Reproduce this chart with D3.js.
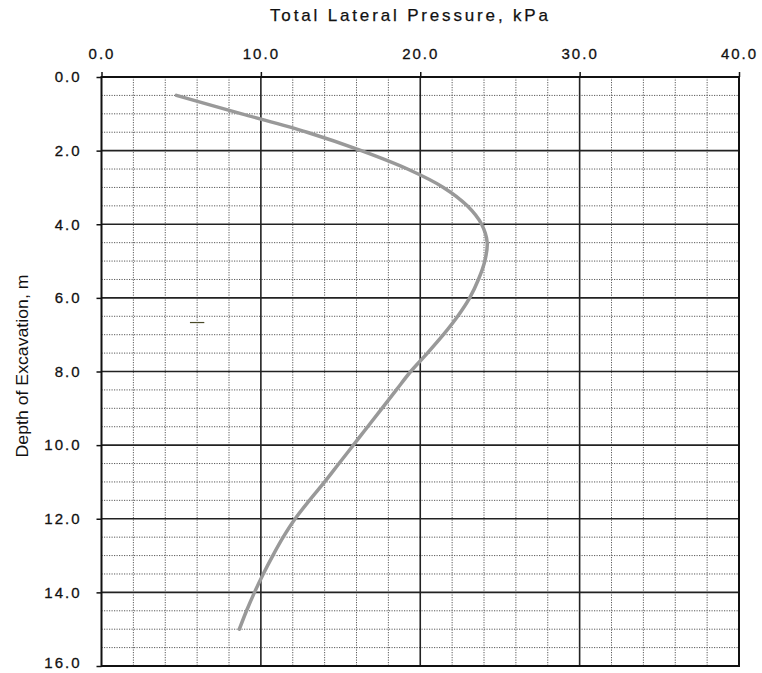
<!DOCTYPE html>
<html>
<head>
<meta charset="utf-8">
<script src="https://cdn.jsdelivr.net/npm/d3@7"></script>
<style>
  body { margin: 0; background: #fff; }
  svg { display: block; }
</style>
</head>
<body>
<div id="app"></div>
<script>
// depth of excavation (m) and total lateral pressure (kPa)
const depth = [0.5, 1.0, 1.5, 2.0, 2.5, 3.0, 3.5, 4.0, 4.5, 5.0, 5.5, 6.0, 6.5, 7.0, 7.5,
  8.0, 8.5, 9.0, 9.5, 10.0, 10.5, 11.0, 11.5, 12.0, 12.5, 13.0, 13.5, 14.0, 14.5, 15.0];
const pressure = [4.7, 8.8, 12.9, 16.3, 19.2, 21.45, 22.95, 23.85, 24.2, 24.05, 23.65, 23.1, 22.35, 21.45, 20.45,
  19.4, 18.5, 17.6, 16.7, 15.8, 14.9, 14.0, 13.05, 12.15, 11.4, 10.75, 10.15, 9.6, 9.1, 8.65];

const xTicks = [0, 10, 20, 30, 40];
const yTicks = [0, 2, 4, 6, 8, 10, 12, 14, 16];
const xMinor = d3.range(0, 40.01, 2);
const yMinor = d3.range(0, 16.01, 0.5);

// small stray mark on the scan, near the 6 kPa gridline
const strayMark = [{ p: 6.0, d: 6.67 }];

const width = 762;
const height = 673;

const svg = d3.select('#app').append('svg')
  .attr('width', width)
  .attr('height', height);

const x = d3.scaleLinear().domain([0, 40]).range([101.5, 739]);
const y = d3.scaleLinear().domain([0, 16]).range([77, 666]);

const grid = svg.append('g');

// minor dotted grid
grid.selectAll('.vminor').data(xMinor.filter(v => v % 10 !== 0))
  .enter().append('line')
  .attr('x1', d => x(d)).attr('x2', d => x(d))
  .attr('y1', y(0)).attr('y2', y(16))
  .attr('stroke', '#5a5a5a').attr('stroke-width', 1)
  .attr('stroke-dasharray', '1.2,1.3');

grid.selectAll('.hminor').data(yMinor.filter(v => v % 2 !== 0))
  .enter().append('line')
  .attr('x1', x(0)).attr('x2', x(40))
  .attr('y1', d => y(d)).attr('y2', d => y(d))
  .attr('stroke', '#5a5a5a').attr('stroke-width', 1)
  .attr('stroke-dasharray', '1.2,1.3');

// major solid grid
grid.selectAll('.vmajor').data(xTicks.slice(1, -1))
  .enter().append('line')
  .attr('x1', d => x(d)).attr('x2', d => x(d))
  .attr('y1', y(0)).attr('y2', y(16))
  .attr('stroke', '#222').attr('stroke-width', 1.6);

grid.selectAll('.hmajor').data(yTicks.slice(1, -1))
  .enter().append('line')
  .attr('x1', x(0)).attr('x2', x(40))
  .attr('y1', d => y(d)).attr('y2', d => y(d))
  .attr('stroke', '#222').attr('stroke-width', 1.6);

// border
svg.append('rect')
  .attr('x', x(0)).attr('y', y(0))
  .attr('width', x(40) - x(0)).attr('height', y(16) - y(0))
  .attr('fill', 'none').attr('stroke', '#111').attr('stroke-width', 2);

// axes
const fmt = d3.format('.1f');

const xAxis = svg.append('g')
  .attr('transform', `translate(0,${y(0)})`)
  .call(d3.axisTop(x).tickValues(xTicks).tickFormat(fmt).tickSize(5).tickPadding(13));

const yAxis = svg.append('g')
  .attr('transform', `translate(${x(0)},0)`)
  .call(d3.axisLeft(y).tickValues(yTicks).tickFormat(fmt).tickSize(5).tickPadding(15));

[xAxis, yAxis].forEach(a => {
  a.attr('font-family', "'Liberation Sans', Arial, sans-serif").attr('font-size', 15);
  a.select('.domain').remove();
  a.selectAll('.tick line').attr('stroke', '#111').attr('stroke-width', 1.5);
  a.selectAll('.tick text')
    .attr('fill', '#111')
    .attr('stroke', '#111').attr('stroke-width', 0.3)
    .style('letter-spacing', '2px');
});

// keep the bottom label inside the frame
yAxis.selectAll('.tick text').filter(d => d === 16).attr('dy', '0.1em');

// curve
const line = d3.line()
  .x((d, i) => x(pressure[i]))
  .y(d => y(d))
  .curve(d3.curveCatmullRom);

svg.append('path')
  .datum(depth)
  .attr('d', line)
  .attr('fill', 'none')
  .attr('stroke', '#999')
  .attr('stroke-width', 3.5)
  .attr('stroke-linecap', 'round');

svg.selectAll('.stray').data(strayMark)
  .enter().append('line')
  .attr('x1', d => x(d.p - 0.45)).attr('x2', d => x(d.p + 0.45))
  .attr('y1', d => y(d.d)).attr('y2', d => y(d.d))
  .attr('stroke', '#4a4a28').attr('stroke-width', 1.2);

// titles
svg.append('text')
  .attr('x', 409).attr('y', 21)
  .attr('text-anchor', 'middle')
  .attr('font-family', "'Liberation Sans', Arial, sans-serif")
  .attr('font-size', 17)
  .attr('textLength', 278)
  .attr('lengthAdjust', 'spacing')
  .attr('fill', '#111')
  .attr('stroke', '#111').attr('stroke-width', 0.25)
  .text('Total Lateral Pressure, kPa');

svg.append('text')
  .attr('transform', 'translate(28,366) rotate(-90)')
  .attr('text-anchor', 'middle')
  .attr('font-family', "'Liberation Sans Narrow', 'Arial Narrow', 'Liberation Sans', sans-serif")
  .attr('font-size', 17)
  .attr('textLength', 183)
  .attr('lengthAdjust', 'spacingAndGlyphs')
  .attr('fill', '#111')
  .text('Depth of Excavation, m');
</script>
</body>
</html>
